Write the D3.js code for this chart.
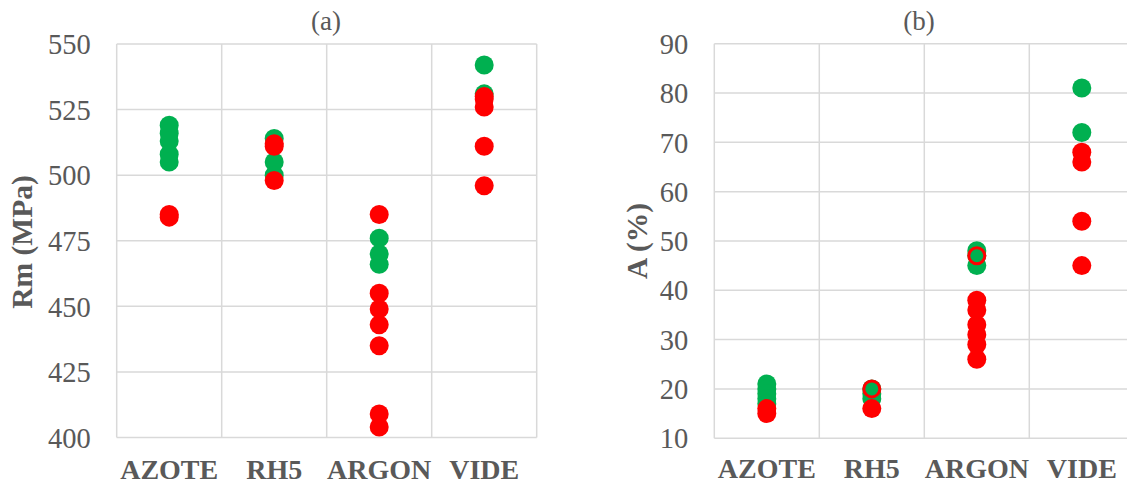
<!DOCTYPE html>
<html>
<head>
<meta charset="utf-8">
<script src="https://cdn.jsdelivr.net/npm/d3@7/dist/d3.min.js"></script>
<style>
  html, body { margin: 0; padding: 0; background: #fff; }
  svg { display: block; }
</style>
</head>
<body>
<svg id="chart" width="1127" height="485"></svg>
<script>
// ---------- data ----------
const categories = ["AZOTE", "RH5", "ARGON", "VIDE"];

// Chart (a): Rm (MPa)
const rmTicks = [400, 425, 450, 475, 500, 525, 550];
const rmGreen = [[519, 516, 513, 508, 505], [514, 505, 500], [476, 470, 466], [542, 531]];
const rmRed   = [[485, 484], [512, 511, 498], [485, 455, 449, 443, 435, 409, 404], [530, 529, 526, 511, 496]];

// Chart (b): A (%)
const aTicks = [10, 20, 30, 40, 50, 60, 70, 80, 90];
const aGreen   = [[21, 20, 19, 18, 17], [20, 19, 18], [48, 47, 45], [81, 72]];
const aRed     = [[16, 15], [16], [38, 36, 33, 31, 29, 26], [68, 66, 54, 45]];
const aRedRing = [[], [20], [47], []];

// ---------- drawing ----------
const GREEN = "#00B050", RED = "#FF0000", GRID = "#D9D9D9", TXT = "#595959";
const FONT = "'Liberation Serif', 'Times New Roman', serif";
const svg = d3.select("#chart");

function flat(arr) {
  const out = [];
  arr.forEach((vals, i) => vals.forEach(v => out.push({ c: categories[i], v })));
  return out;
}

function panel(opt) {
  const g = svg.append("g");
  const x = d3.scaleBand().domain(categories).range([opt.left, opt.right]).padding(0);
  const y = d3.scaleLinear().domain([opt.ticks[0], opt.ticks[opt.ticks.length - 1]]).range([opt.bottom, opt.top]);

  // horizontal grid
  g.append("g").selectAll("line").data(opt.ticks).join("line")
    .attr("x1", opt.left).attr("x2", opt.right)
    .attr("y1", d => y(d)).attr("y2", d => y(d))
    .attr("stroke", GRID).attr("stroke-width", 1.5);
  // vertical grid (band boundaries)
  const bounds = categories.map(c => x(c)).concat([opt.right]);
  g.append("g").selectAll("line").data(bounds).join("line")
    .attr("x1", d => d).attr("x2", d => d)
    .attr("y1", opt.top).attr("y2", opt.bottom)
    .attr("stroke", GRID).attr("stroke-width", 1.5);

  // y axis labels
  const ya = g.append("g").attr("transform", `translate(${opt.left},0)`)
    .call(d3.axisLeft(y).tickValues(opt.ticks).tickSize(0).tickPadding(26));
  ya.select(".domain").remove();
  ya.selectAll("text").attr("font-family", FONT).attr("font-size", 28.5).attr("fill", TXT).attr("dy", "0.34em");

  // x axis labels
  const xa = g.append("g").attr("transform", `translate(0,${opt.bottom})`)
    .call(d3.axisBottom(x).tickSize(0));
  xa.select(".domain").remove();
  xa.selectAll("text").attr("font-family", FONT).attr("font-size", 28).attr("font-weight", "bold")
    .attr("fill", TXT).attr("y", 478.5 - opt.bottom).attr("dy", 0);

  // y axis title
  g.append("text")
    .attr("transform", `translate(${opt.titleX},${opt.titleY}) rotate(-90)`)
    .attr("text-anchor", "middle").attr("font-family", FONT).attr("font-size", 29.5)
    .attr("font-weight", "bold").attr("fill", TXT).text(opt.yTitle);

  // panel title
  g.append("text").attr("x", opt.headX).attr("y", 30)
    .attr("text-anchor", "middle").attr("font-family", FONT).attr("font-size", 27)
    .attr("fill", TXT).text(opt.title);

  const cx = d => x(d.c) + x.bandwidth() / 2;
  opt.layers.forEach(L => {
    g.append("g").selectAll("circle").data(flat(L.data)).join("circle")
      .attr("cx", cx).attr("cy", d => y(d.v))
      .attr("r", L.ring ? 8 : 9.5)
      .attr("fill", L.ring ? "none" : L.color)
      .attr("stroke", L.ring ? L.color : "none")
      .attr("stroke-width", L.ring ? 3 : 0);
  });
}

panel({
  left: 116.7, right: 536.7, top: 44, bottom: 437.5,
  ticks: rmTicks, yTitle: "Rm (MPa)", title: "(a)", titleX: 32, titleY: 242, headX: 326,
  layers: [{ data: rmGreen, color: GREEN }, { data: rmRed, color: RED }]
});

panel({
  left: 714.3, right: 1134.3, top: 43.7, bottom: 438.2,
  ticks: aTicks, yTitle: "A (%)", title: "(b)", titleX: 647, titleY: 241, headX: 919,
  layers: [{ data: aGreen, color: GREEN }, { data: aRed, color: RED }, { data: aRedRing, color: RED, ring: true }]
});
</script>
</body>
</html>
